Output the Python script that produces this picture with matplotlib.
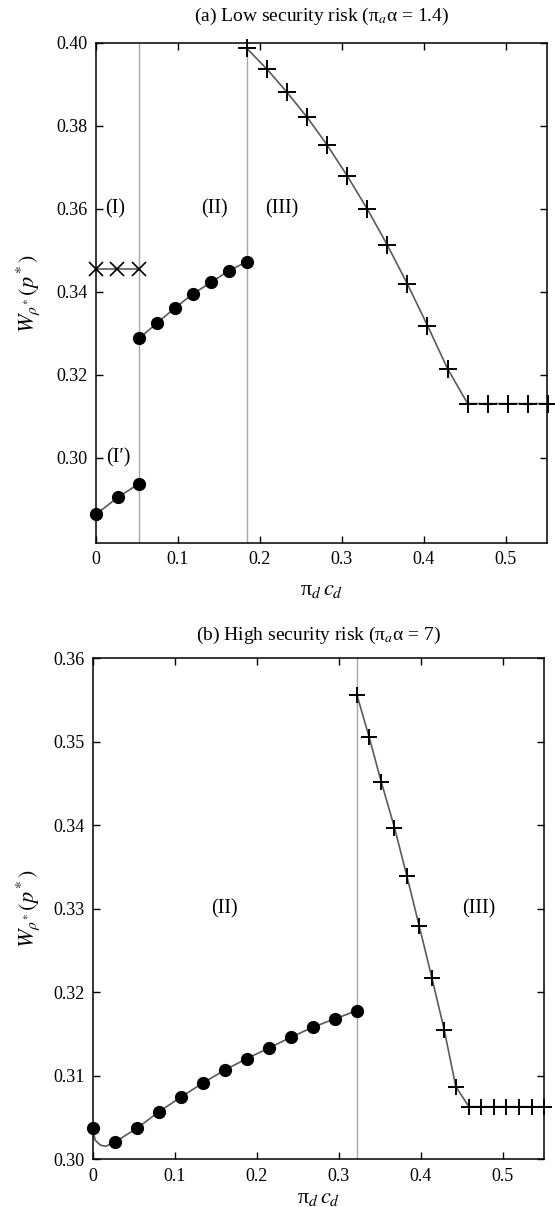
"""Two-panel welfare curves, low vs high security risk."""
import matplotlib
matplotlib.use("Agg")
import matplotlib.pyplot as plt

plt.rcParams["font.family"] = ["Liberation Serif", "DejaVu Serif"]
plt.rcParams["mathtext.fontset"] = "stix"

# ---- panel (a): low security risk ----
a_cross_x = [0.0, 0.026, 0.0525]
a_cross_y = [0.3455, 0.3455, 0.3455]
a_low_x = [0.0, 0.0265, 0.0525]
a_low_y = [0.2864, 0.2905, 0.2938]
a_mid_x = [0.0525, 0.075, 0.0966, 0.1181, 0.1401, 0.162, 0.184]
a_mid_y = [0.3288, 0.3326, 0.3362, 0.3395, 0.3423, 0.3451, 0.3473]
a_high_x = [0.184, 0.2086, 0.2331, 0.2576, 0.2821, 0.3065, 0.331, 0.3555,
            0.380, 0.4045, 0.429, 0.4535, 0.478, 0.5025, 0.527, 0.5515]
a_high_y = [0.3987, 0.3937, 0.3881, 0.3821, 0.3754, 0.3680, 0.3600, 0.3513,
            0.3419, 0.3319, 0.3215, 0.3131, 0.3131, 0.3131, 0.3131, 0.3131]
a_bounds = [0.0525, 0.184]
a_labels = [("(I)", 0.023, 0.360), ("(II)", 0.145, 0.360),
            ("(III)", 0.2267, 0.360), ("(I\u2032)", 0.027, 0.300)]

# ---- panel (b): high security risk ----
b_mid_x = [0.0, 0.0268, 0.0536, 0.0804, 0.1072, 0.134, 0.1608, 0.1876,
           0.2144, 0.2412, 0.268, 0.2948, 0.322]
b_mid_y = [0.3037, 0.30205, 0.3037, 0.30566, 0.30743, 0.30912, 0.31068,
           0.31205, 0.3133, 0.3146, 0.3158, 0.3168, 0.3178]
# the smooth curve dips between the first two markers
b_curve_x = [0.0, 0.003, 0.0095, 0.016, 0.0268] + b_mid_x[2:]
b_curve_y = [0.3037, 0.3023, 0.30169, 0.30157, 0.30205] + b_mid_y[2:]
b_high_x = [0.322, 0.337, 0.3516, 0.3678, 0.3829, 0.398, 0.4134, 0.4284,
            0.4425, 0.4585, 0.4735, 0.489, 0.504, 0.519, 0.535, 0.550]
b_high_y = [0.3556, 0.3505, 0.3452, 0.3397, 0.3339, 0.3279, 0.3217, 0.3155,
            0.3087, 0.3063, 0.3063, 0.3063, 0.3063, 0.3063, 0.3063, 0.3063]
b_bounds = [0.322]
b_labels = [("(II)", 0.16, 0.330), ("(III)", 0.47, 0.330)]

LINE = "#5a5a5a"
VLINE = "#a8a8a8"
TICK_FS = 13
TITLE_FS = 14
REGION_FS = 14.5
LABEL_FS = 16


def style_axes(ax, ylim, yticks, ylab_x, xpad):
    ax.set_xlim(0, 0.55)
    ax.set_ylim(*ylim)
    ax.set_xticks([0, 0.1, 0.2, 0.3, 0.4, 0.5])
    ax.set_xticklabels(["0", "0.1", "0.2", "0.3", "0.4", "0.5"])
    ax.set_yticks(yticks)
    ax.set_yticklabels([f"{v:.2f}" for v in yticks])
    ax.tick_params(direction="in", top=True, right=True, length=5,
                   width=1.0, labelsize=TICK_FS, pad=6)
    for sp in ax.spines.values():
        sp.set_linewidth(1.1)
    ax.set_xlabel("\u03c0$_d\\,c_d$", fontsize=LABEL_FS, labelpad=xpad)
    ax.set_ylabel(r"$W_{\rho^*}(p^*)$", fontsize=LABEL_FS)
    ax.yaxis.set_label_coords(ylab_x, 0.5)


fig = plt.figure(figsize=(5.55, 12.07), dpi=100)

# panel (a)
ax1 = fig.add_axes([0.1730, 0.5501, 0.8121, 0.4143])
for b in a_bounds:
    ax1.axvline(b, color=VLINE, lw=1.0, zorder=1)
ax1.plot(a_cross_x, a_cross_y, color=LINE, lw=1.2, marker="x", ms=9.5,
         mec="black", mew=1.2, clip_on=False, zorder=3)
ax1.plot(a_low_x, a_low_y, color=LINE, lw=1.2, marker="o", ms=8.5,
         mfc="black", mec="black", clip_on=False, zorder=3)
ax1.plot(a_mid_x, a_mid_y, color=LINE, lw=1.2, marker="o", ms=8.5,
         mfc="black", mec="black", clip_on=False, zorder=3)
ax1.plot(a_high_x, a_high_y, color=LINE, lw=1.2, marker="+", ms=12.5,
         mec="black", mew=1.4, clip_on=False, zorder=3)
for txt, x, y in a_labels:
    ax1.text(x, y, txt, fontsize=REGION_FS, ha="center", va="center")
style_axes(ax1, (0.2795, 0.40), [0.30, 0.32, 0.34, 0.36, 0.38, 0.40],
           -0.12, 9)
fig.text(0.579, 1 - 16 / 1207, "(a) Low security risk (\u03c0$_a$\u03b1 = 1.4)",
         fontsize=TITLE_FS, ha="center", va="center")

# panel (b)
ax2 = fig.add_axes([0.1670, 0.0395, 0.8132, 0.4153])
for b in b_bounds:
    ax2.axvline(b, color=VLINE, lw=1.0, zorder=1)
ax2.plot(b_curve_x, b_curve_y, color=LINE, lw=1.2, zorder=2)
ax2.plot(b_mid_x, b_mid_y, ls="none", marker="o", ms=8.5,
         mfc="black", mec="black", clip_on=False, zorder=3)
ax2.plot(b_high_x, b_high_y, color=LINE, lw=1.2, marker="+", ms=12,
         mec="black", mew=1.4, clip_on=False, zorder=3)
for txt, x, y in b_labels:
    ax2.text(x, y, txt, fontsize=REGION_FS, ha="center", va="center")
style_axes(ax2, (0.30, 0.36), [0.30, 0.31, 0.32, 0.33, 0.34, 0.35, 0.36],
           -0.113, 3)
fig.text(0.574, 1 - 635 / 1207, "(b) High security risk (\u03c0$_a$\u03b1 = 7)",
         fontsize=TITLE_FS, ha="center", va="center")

fig.savefig("out.png", dpi=100)
plt.close(fig)
